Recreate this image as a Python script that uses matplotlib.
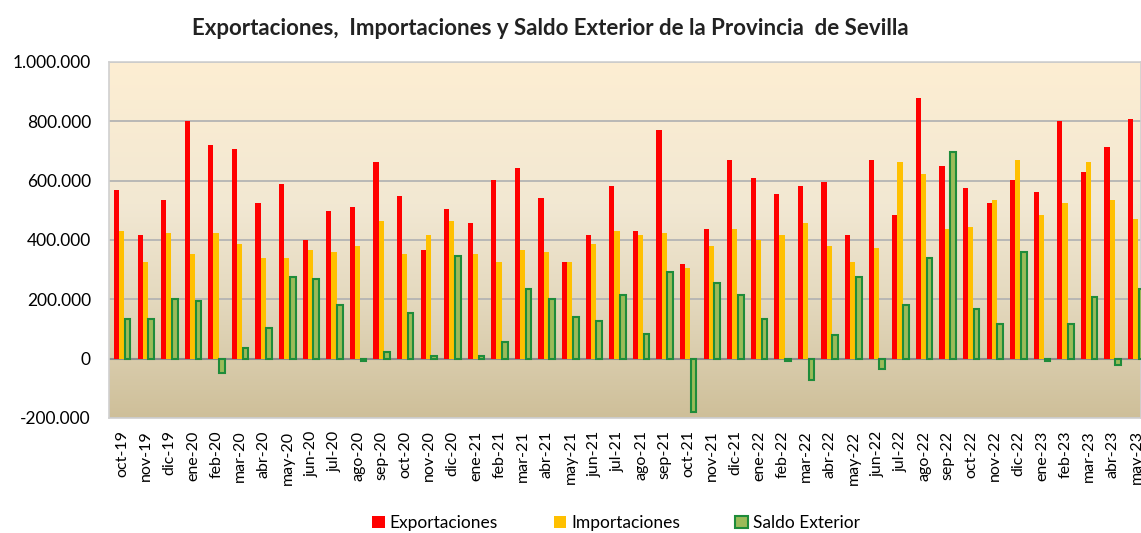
import numpy as np
import matplotlib
matplotlib.use("Agg")
import matplotlib.pyplot as plt
from matplotlib.colors import LinearSegmentedColormap
from matplotlib.ticker import FuncFormatter

plt.rcParams['font.family'] = ['Lato', 'DejaVu Sans']

meses = ["oct-19", "nov-19", "dic-19", "ene-20", "feb-20", "mar-20", "abr-20", "may-20",
         "jun-20", "jul-20", "ago-20", "sep-20", "oct-20", "nov-20", "dic-20", "ene-21",
         "feb-21", "mar-21", "abr-21", "may-21", "jun-21", "jul-21", "ago-21", "sep-21",
         "oct-21", "nov-21", "dic-21", "ene-22", "feb-22", "mar-22", "abr-22", "may-22",
         "jun-22", "jul-22", "ago-22", "sep-22", "oct-22", "nov-22", "dic-22", "ene-23",
         "feb-23", "mar-23", "abr-23", "may-23"]

# miles de euros
exportaciones = [567, 416, 534, 802, 719, 706, 526, 589, 401, 499, 512, 664,
                 547, 367, 506, 457, 602, 644, 540, 327, 416, 582, 429, 769,
                 319, 436, 671, 609, 554, 582, 596, 416, 671, 484, 878, 649,
                 574, 526, 602, 561, 802, 629, 712, 809]
importaciones = [429, 327, 422, 354, 422, 388, 340, 340, 367, 361, 381, 464,
                 354, 416, 464, 354, 327, 367, 361, 327, 388, 429, 416, 422,
                 306, 381, 436, 401, 416, 457, 381, 327, 374, 664, 622, 436,
                 443, 533, 671, 484, 526, 664, 533, 471]
saldo = [133, 133, 201, 194, -48, 36, 104, 276, 270, 180, -9, 21,
         153, 8, 346, 8, 56, 236, 201, 139, 126, 215, 84, 291,
         -180, 256, 215, 133, -9, -71, 78, 276, -36, 180, 339, 698,
         166, 118, 361, -9, 118, 208, -22, 236]

exportaciones = np.array(exportaciones) * 1000
importaciones = np.array(importaciones) * 1000
saldo = np.array(saldo) * 1000
x = np.arange(len(meses))

fig = plt.figure(figsize=(11.41, 5.33), dpi=100)
ax = fig.add_axes([0.0955, 0.2158, 0.9045, 0.668])

# degradado de fondo
cmap = LinearSegmentedColormap.from_list("fondo", [(0, "#CEBF99"), (0.35, "#E5DAC0"),
                                                   (0.6, "#F2E8D3"), (1, "#FDEED2")])
grad = np.linspace(0, 1, 256).reshape(-1, 1)
ax.imshow(grad, cmap=cmap, aspect="auto", extent=[0, 1, 0, 1], origin="lower",
          transform=ax.transAxes, zorder=0)

ax.bar(x - 0.25, exportaciones, width=0.22, color="#FF0000", zorder=3, label="Exportaciones")
ax.bar(x - 0.03, importaciones, width=0.22, color="#FFC000", zorder=3, label="Importaciones")
ax.bar(x + 0.22, saldo, width=0.24, color="#9BBB59", edgecolor="#1E8C3A", linewidth=1.5,
       zorder=3, label="Saldo Exterior")

ax.set_ylim(-200000, 1000000)
ax.set_xlim(-0.57, 43.19)
ax.set_yticks(np.arange(-200000, 1000001, 200000))
ax.yaxis.set_major_formatter(FuncFormatter(lambda v, p: f"{int(v):,}".replace(",", ".")))
ax.grid(axis="y", color="#B4B4B4", linewidth=1.3, zorder=1)
ax.axhline(0, color="#8C8C8C", linewidth=1.5, zorder=2)

ax.set_xticks(x)
ax.set_xticklabels(meses, rotation=90, fontsize=11.5)
ax.tick_params(axis="y", labelsize=12.5, length=0, pad=13)
ax.tick_params(axis="x", length=0, pad=9)
for s in ax.spines.values():
    s.set_color("#D0D0D0")
    s.set_linewidth(1.2)

fig.text(0.482, 0.947, "Exportaciones,  Importaciones y Saldo Exterior de la Provincia  de Sevilla",
         ha="center", va="center", fontsize=16, fontweight="bold", color="#222222")

fig.legend(loc="lower center", bbox_to_anchor=(0.54, -0.025), ncol=3, frameon=False,
           fontsize=12.5, handlelength=0.7, handleheight=0.7, columnspacing=3.2,
           handletextpad=0.3)

fig.savefig("out.png", dpi=100)
